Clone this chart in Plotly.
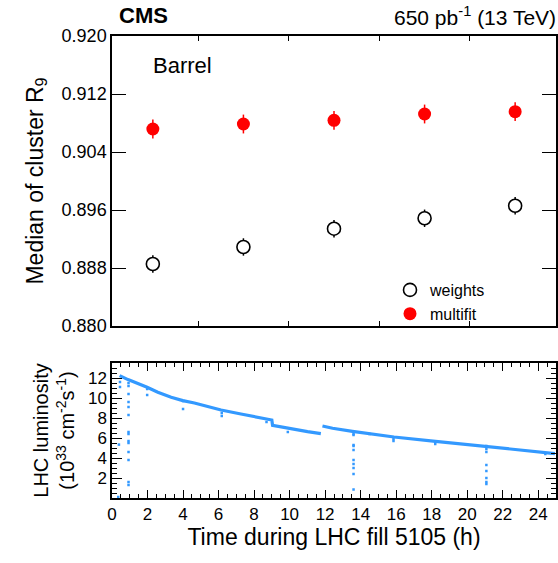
import plotly.graph_objects as go

# ---------------- data ----------------
# Top panel: median cluster R9 per time bin
bin_time_h = [2.3, 7.4, 12.5, 17.6, 22.7]
r9_weights = [0.88855, 0.89090, 0.89342, 0.89486, 0.89659]
r9_weights_err = [0.0012, 0.0012, 0.0012, 0.0012, 0.0012]
r9_multifit = [0.90717, 0.90786, 0.90837, 0.90924, 0.90956]
r9_multifit_err = [0.0013, 0.0013, 0.0013, 0.0013, 0.0013]

# Bottom panel: LHC instantaneous luminosity (main trend, None = gap)
lumi_time_h = [0.43, 0.90, 1.98, 2.58, 3.33, 3.99, 4.64, 5.39, 6.14, 7.26, 8.20, 9.00,
               9.04, 9.89, 11.01, 11.76, None,
               11.85, 12.42, 13.54, 15.88, 18.22, 21.10, 24.30, 24.94]
lumi_value = [12.24, 11.84, 11.07, 10.57, 10.07, 9.74, 9.50, 9.14, 8.80, 8.40, 8.07, 7.80,
              7.27, 6.97, 6.64, 6.44, None,
              7.20, 6.97, 6.67, 6.10, 5.67, 5.17, 4.54, 4.44]

# scattered low readings (dips)
dip_time_h = [0.39, 0.35, 0.45, 0.45,
              0.93, 0.93, 0.93, 0.93, 0.93, 0.93, 0.93, 0.93, 0.93, 0.93, 0.93, 0.93, 0.93, 0.93,
              1.98, 1.98, 4.00, 4.00, 6.18, 6.18, 8.70, 9.90,
              13.60, 13.60, 13.60, 13.60, 13.60, 13.60, 13.60, 13.60, 13.60, 13.60,
              14.50, 15.85, 15.85, 18.20, 18.20,
              21.08, 21.08, 21.08, 21.08, 21.08, 21.08, 21.08, 21.08, 24.40]
dip_value = [5.34, 0.10, 11.6, 11.1,
             11.5, 11.2, 10.4, 9.6, 9.1, 8.3, 6.6, 6.4, 5.7, 5.5, 4.6, 3.8, 1.6, 1.3,
             10.9, 10.3, 9.7, 8.9, 8.5, 8.2, 7.6, 6.6,
             6.4, 6.3, 5.3, 5.2, 4.8, 3.8, 3.4, 3.0, 2.4, 0.85,
             6.4, 5.9, 5.7, 5.6, 5.4,
             5.2, 4.9, 4.6, 3.3, 2.7, 2.0, 1.6, 1.4, 4.4]

lumi_ticks = [2, 4, 6, 8, 10, 12]
time_ticks = list(range(0, 25, 2))
r9_ticks = [0.880, 0.888, 0.896, 0.904, 0.912, 0.920]

# bin boundaries drawn as ticks on the top panel
bin_edges = [(a + b) / 2 for a, b in zip(bin_time_h[:-1], bin_time_h[1:])]

# ---------------- figure ----------------
W, H = 558, 563
ML, MR, MT, MB = 112, 2, 36, 65
PW, PH = W - ML - MR, H - MT - MB
FONT = "Liberation Sans, Arial, Helvetica, sans-serif"
BLUE = "#3399FF"


def px_x(p):
    return (p - ML) / PW


def px_y(p):
    return (H - MB - p) / PH


fig = go.Figure()

fig.add_trace(go.Scatter(
    x=bin_time_h, y=r9_weights, mode="markers", name="weights",
    error_y=dict(type="data", array=r9_weights_err, color="black", thickness=1.5, width=0),
    marker=dict(symbol="circle", size=13, color="white", line=dict(width=1.6, color="black")),
    xaxis="x", yaxis="y",
))
fig.add_trace(go.Scatter(
    x=bin_time_h, y=r9_multifit, mode="markers", name="multifit",
    error_y=dict(type="data", array=r9_multifit_err, color="#ff0000", thickness=1.5, width=0),
    marker=dict(symbol="circle", size=13, color="#ff0000"),
    xaxis="x", yaxis="y",
))
fig.add_trace(go.Scatter(
    x=lumi_time_h, y=lumi_value, mode="lines", showlegend=False,
    line=dict(color=BLUE, width=3.2), connectgaps=False,
    xaxis="x2", yaxis="y2",
))
fig.add_trace(go.Scatter(
    x=dip_time_h, y=dip_value, mode="markers", showlegend=False,
    marker=dict(symbol="square", size=2.5, color=BLUE),
    xaxis="x2", yaxis="y2",
))

axis_common = dict(showline=True, linecolor="black", linewidth=1.5, mirror="ticks",
                   ticks="inside", tickcolor="black", showgrid=False, zeroline=False,
                   automargin=False)

fig.update_layout(
    template="none",
    width=W, height=H,
    margin=dict(l=ML, r=MR, t=MT, b=MB, pad=0),
    paper_bgcolor="white", plot_bgcolor="white",
    font=dict(family=FONT, color="black"),
    showlegend=True,
    legend=dict(x=px_x(390), y=px_y(273), xanchor="left", yanchor="top",
                bgcolor="rgba(0,0,0,0)", font=dict(size=16, family=FONT),
                itemwidth=30, tracegroupgap=0),
    xaxis=dict(domain=[0, 1], range=[0, 25], anchor="y", tickvals=bin_edges,
               showticklabels=False, ticklen=5, tickwidth=1.2, **axis_common),
    yaxis=dict(domain=[px_y(326), 1], range=[0.880, 0.920], anchor="x",
               tickvals=r9_ticks, ticktext=[f"{v:.3f}" for v in r9_ticks],
               ticklen=14, tickwidth=1.2, tickfont=dict(size=18),
               title=dict(text="Median of cluster R<sub>9</sub>", font=dict(size=23), standoff=12),
               **axis_common),
    xaxis2=dict(domain=[0, 1], range=[0, 25], anchor="y2", tickvals=time_ticks,
                ticklen=8, tickwidth=1.2, tickfont=dict(size=17),
                minor=dict(dtick=0.5, tick0=0, ticklen=4, ticks="inside", tickcolor="black", tickwidth=1),
                title=dict(text="Time during LHC fill 5105 (h)", font=dict(size=23), standoff=0),
                **axis_common),
    yaxis2=dict(domain=[0, px_y(363)], range=[0, 13.5], anchor="x2",
                tickvals=lumi_ticks, ticklen=10, tickwidth=1.2, tickfont=dict(size=17),
                minor=dict(dtick=0.5, tick0=0, ticklen=5, ticks="inside", tickcolor="black", tickwidth=1),
                title=dict(text="LHC luminosity<br>(10<sup>33</sup> cm<sup>-2</sup>s<sup>-1</sup>)",
                           font=dict(size=20), standoff=8),
                **axis_common),
    annotations=[
        dict(text="<b>CMS</b>", x=px_x(117), y=px_y(16), xref="paper", yref="paper",
             xanchor="left", yanchor="middle", showarrow=False, font=dict(size=22, family=FONT)),
        dict(text="650 pb<sup>-1</sup> (13 TeV)", x=px_x(558), y=px_y(16), xref="paper", yref="paper",
             xanchor="right", yanchor="middle", showarrow=False, font=dict(size=21, family=FONT)),
        dict(text="Barrel", x=px_x(151), y=px_y(65), xref="paper", yref="paper",
             xanchor="left", yanchor="middle", showarrow=False, font=dict(size=22, family=FONT)),
    ],
)

fig.write_html("out.html", config={"displayModeBar": False},
               post_script="document.body.style.margin='0px';")
